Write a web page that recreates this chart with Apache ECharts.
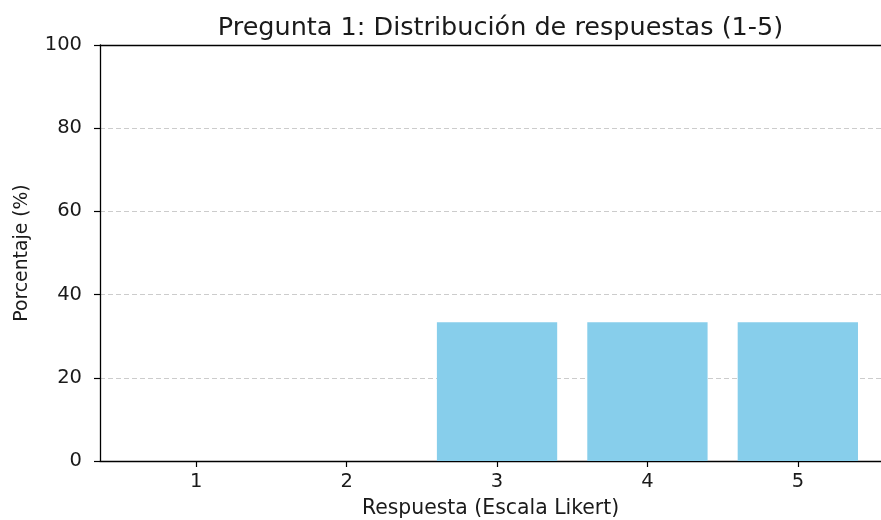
<!DOCTYPE html>
<html><head><meta charset="utf-8">
<script src="https://cdn.jsdelivr.net/npm/echarts@6/dist/echarts.min.js"></script>
<style>html,body{margin:0;padding:0;background:#fff}#c{width:881px;height:520px}</style>
</head><body><div id="c"></div>
<script>
const categories = [1, 2, 3, 4, 5];
const percentages = [0, 0, 33.33, 33.33, 33.33];
const yTicks = [0, 20, 40, 60, 80, 100];
const titleText = 'Pregunta 1: Distribución de respuestas (1-5)';
const xName = 'Respuesta (Escala Likert)';
const yName = 'Porcentaje (%)';

const font = 'DejaVu Sans';
const xMin = 0.36, xMax = 5.553;
const chart = echarts.init(document.getElementById('c'), null, {renderer: 'canvas'});
chart.setOption({
  animation: false,
  title: {text: titleText, left: 495.5, top: 10, textAlign: 'center',
    textStyle: {fontFamily: font, fontSize: 25.5, fontWeight: 'normal', color: '#1a1a1a'}},
  grid: {left: 100, top: 45, right: 0, height: 416, outerBoundsMode: 'none', containLabel: false},
  xAxis: [{
    type: 'value', min: xMin, max: xMax,
    name: xName, nameLocation: 'middle', nameGap: 38,
    nameTextStyle: {fontFamily: font, fontSize: 20.4, color: '#1a1a1a', align: 'center'},
    axisLine: {show: true, onZero: false, lineStyle: {color: '#000', width: 1.3}},
    axisTick: {show: true, length: 6, lineStyle: {color: '#000', width: 1.2}, customValues: categories},
    axisLabel: {fontFamily: font, fontSize: 19.5, color: '#1a1a1a', margin: 11, customValues: categories},
    splitLine: {show: false}
  }, {
    type: 'value', min: xMin, max: xMax, position: 'top',
    axisLine: {show: true, onZero: false, lineStyle: {color: '#000', width: 1.3}},
    axisTick: {show: false}, axisLabel: {show: false}, splitLine: {show: false}
  }],
  yAxis: {
    type: 'value', min: 0, max: 100, interval: 20,
    name: yName, nameLocation: 'middle', nameGap: 68, nameRotate: 90,
    nameTextStyle: {fontFamily: font, fontSize: 18.8, color: '#1a1a1a'},
    axisLine: {show: true, lineStyle: {color: '#000', width: 1.3}},
    axisTick: {show: true, length: 6, lineStyle: {color: '#000', width: 1.2}},
    axisLabel: {fontFamily: font, fontSize: 19.5, color: '#1a1a1a', margin: 18,
      formatter: v => yTicks.includes(v) ? String(v) : ''},
    splitLine: {show: true, lineStyle: {color: '#cccccc', type: [5, 3], width: 1}}
  },
  series: [{
    type: 'bar',
    xAxisIndex: 0,
    data: categories.map((c, i) => [c, percentages[i]]),
    barWidth: 120.3,
    itemStyle: {color: '#87CEEB'}
  }]
});
</script></body></html>
